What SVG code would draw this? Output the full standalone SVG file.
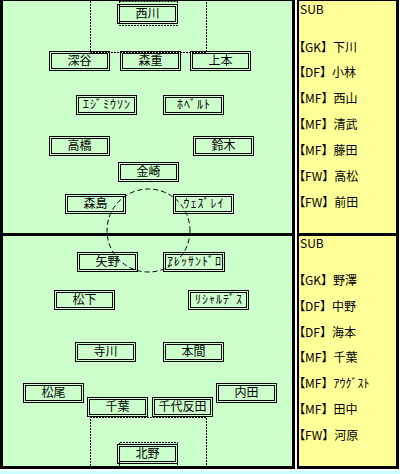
<svg xmlns="http://www.w3.org/2000/svg" width="400" height="474" viewBox="0 0 400 474">
<style>
.bk{fill:#000}
.gr{fill:#CCFFCC}
.ye{fill:#FFFF99}
.node rect{fill:none;stroke:#000;stroke-width:1}
text{font-family:"Noto Sans CJK JP","Noto Sans",sans-serif;font-size:12px;fill:#000}
.node text{text-anchor:middle}
.hw{letter-spacing:1px}
.dot{fill:none;stroke:#000;stroke-width:1;stroke-dasharray:2,1}
.dash{fill:none;stroke:#000;stroke-width:1;stroke-dasharray:5,3}
.pa{font-feature-settings:"palt"}
</style>
<rect x="0" y="0" width="400" height="474" fill="#fff"/>
<rect x="0" y="471" width="400" height="3" fill="#CCFFFF"/>
<!-- pitch -->
<rect class="bk" x="0" y="0" width="295" height="469"/>
<rect class="gr" x="3" y="1" width="289" height="232"/>
<rect class="gr" x="3" y="236" width="289" height="230"/>
<!-- subs panel -->
<rect class="bk" x="297" y="0" width="102" height="469"/>
<rect class="ye" x="299" y="1" width="97" height="232"/>
<rect class="ye" x="299" y="236" width="97" height="230"/>

<g id="connectors">
<path class="dot" d="M90.5,1 V52.5 H206.5 V1"/>
<path class="dot" d="M119.5,1 V25.5 H177.5 V1 M119.5,1.5 H177.5"/>
<path class="dot" d="M90.5,466 V417.5 H206.5 V466"/>
<path class="dot" d="M119.5,466 V442.5 H177.5 V466"/>
<circle class="dash" cx="148.5" cy="230.5" r="41.5"/>
</g>

<g id="n1" class="node"><rect x="117.5" y="4.5" width="60" height="19"/><rect x="119.5" y="6.5" width="56" height="15"/><text x="147.5" y="18">西川</text></g>
<g id="n2" class="node"><rect x="49.5" y="51.5" width="60" height="19"/><rect x="51.5" y="53.5" width="56" height="15"/><text x="79.5" y="65">深谷</text></g>
<g id="n3" class="node"><rect x="120.5" y="51.5" width="60" height="19"/><rect x="122.5" y="53.5" width="56" height="15"/><text x="150.5" y="65">森重</text></g>
<g id="n4" class="node"><rect x="190.5" y="51.5" width="60" height="19"/><rect x="192.5" y="53.5" width="56" height="15"/><text x="220.5" y="65">上本</text></g>
<g id="n5" class="node"><rect x="76.5" y="95.5" width="60" height="19"/><rect x="78.5" y="97.5" width="56" height="15"/><text class="hw" x="107" y="109">ｴｼﾞﾐｳｿﾝ</text></g>
<g id="n6" class="node"><rect x="163.5" y="95.5" width="60" height="19"/><rect x="165.5" y="97.5" width="56" height="15"/><text class="hw" x="194" y="109">ﾎﾍﾞﾙﾄ</text></g>
<g id="n7" class="node"><rect x="49.5" y="136.5" width="60" height="19"/><rect x="51.5" y="138.5" width="56" height="15"/><text x="79.5" y="150">高橋</text></g>
<g id="n8" class="node"><rect x="193.5" y="136.5" width="60" height="19"/><rect x="195.5" y="138.5" width="56" height="15"/><text x="223.5" y="150">鈴木</text></g>
<g id="n9" class="node"><rect x="118.5" y="162.5" width="60" height="19"/><rect x="120.5" y="164.5" width="56" height="15"/><text x="148.5" y="176">金崎</text></g>
<g id="n10" class="node"><rect x="65.5" y="194.5" width="60" height="19"/><rect x="67.5" y="196.5" width="56" height="15"/><text x="95.5" y="208">森島</text></g>
<g id="n11" class="node"><rect x="173.5" y="194.5" width="60" height="19"/><rect x="175.5" y="196.5" width="56" height="15"/><text class="hw" x="204" y="208">ｳｪｽﾞﾚｲ</text></g>
<g id="n12" class="node"><rect x="77.5" y="252.5" width="60" height="19"/><rect x="79.5" y="254.5" width="56" height="15"/><text x="107.5" y="266">矢野</text></g>
<g id="n13" class="node"><rect x="163.5" y="252.5" width="61" height="19"/><rect x="165.5" y="254.5" width="57" height="15"/><text class="hw" x="194.5" y="266">ｱﾚｯｻﾝﾄﾞﾛ</text></g>
<g id="n14" class="node"><rect x="54.5" y="290.5" width="60" height="19"/><rect x="56.5" y="292.5" width="56" height="15"/><text x="84.5" y="304">松下</text></g>
<g id="n15" class="node"><rect x="188.5" y="290.5" width="60" height="19"/><rect x="190.5" y="292.5" width="56" height="15"/><text class="hw" x="219" y="304">ﾘｼｬﾙﾃﾞｽ</text></g>
<g id="n16" class="node"><rect x="75.5" y="342.5" width="60" height="19"/><rect x="77.5" y="344.5" width="56" height="15"/><text x="105.5" y="356">寺川</text></g>
<g id="n17" class="node"><rect x="163.5" y="342.5" width="60" height="19"/><rect x="165.5" y="344.5" width="56" height="15"/><text x="193.5" y="356">本間</text></g>
<g id="n18" class="node"><rect x="23.5" y="383.5" width="60" height="19"/><rect x="25.5" y="385.5" width="56" height="15"/><text x="53.5" y="397">松尾</text></g>
<g id="n19" class="node"><rect x="87.5" y="397.5" width="60" height="19"/><rect x="89.5" y="399.5" width="56" height="15"/><text x="117.5" y="411">千葉</text></g>
<g id="n20" class="node"><rect x="152.5" y="397.5" width="60" height="19"/><rect x="154.5" y="399.5" width="56" height="15"/><text x="182.5" y="411">千代反田</text></g>
<g id="n21" class="node"><rect x="216.5" y="383.5" width="60" height="19"/><rect x="218.5" y="385.5" width="56" height="15"/><text x="246.5" y="397">内田</text></g>
<g id="n22" class="node"><rect x="117.5" y="444.5" width="60" height="19"/><rect x="119.5" y="446.5" width="56" height="15"/><text x="147.5" y="458">北野</text></g>

<g id="subs-top">
<text x="300" y="14">SUB</text>
<text x="299" y="52"><tspan class="pa">【</tspan>GK】下川</text>
<text x="299" y="76.5"><tspan class="pa">【</tspan>DF】小林</text>
<text x="299" y="102.5"><tspan class="pa">【</tspan>MF】西山</text>
<text x="299" y="128.5"><tspan class="pa">【</tspan>MF】清武</text>
<text x="299" y="154.5"><tspan class="pa">【</tspan>MF】藤田</text>
<text x="299" y="180.5"><tspan class="pa">【</tspan>FW】高松</text>
<text x="299" y="206.5"><tspan class="pa">【</tspan>FW】前田</text>
</g>
<g id="subs-bottom">
<text x="300" y="248">SUB</text>
<text x="299" y="284.5"><tspan class="pa">【</tspan>GK】野澤</text>
<text x="299" y="310.5"><tspan class="pa">【</tspan>DF】中野</text>
<text x="299" y="336.5"><tspan class="pa">【</tspan>DF】海本</text>
<text x="299" y="362"><tspan class="pa">【</tspan>MF】千葉</text>
<text x="299" y="387.5"><tspan class="pa">【</tspan>MF】ｱｳｸﾞｽﾄ</text>
<text x="299" y="413.5"><tspan class="pa">【</tspan>MF】田中</text>
<text x="299" y="439.5"><tspan class="pa">【</tspan>FW】河原</text>
</g>
</svg>
